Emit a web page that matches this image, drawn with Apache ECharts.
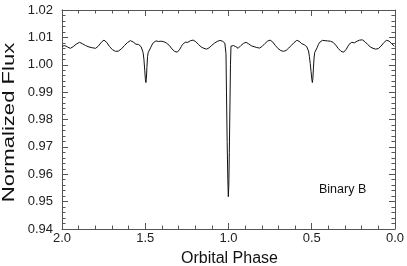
<!DOCTYPE html>
<html>
<head>
<meta charset="utf-8">
<script src="https://cdn.jsdelivr.net/npm/echarts@6/dist/echarts.min.js"></script>
<style>
html,body{margin:0;padding:0;background:#fff;}
#c{width:407px;height:266px;}
</style>
</head>
<body>
<div id="c"></div>
<script>
const xTitle = 'Orbital Phase';
const yTitle = 'Normalized Flux';
const annotation = 'Binary B';
const xTicks = [0, 0.5, 1.0, 1.5, 2.0];
const yTicks = [0.94, 0.95, 0.96, 0.97, 0.98, 0.99, 1.00, 1.01, 1.02];

const phase = [
1.998,1.990,1.983,1.975,1.967,1.958,1.950,1.942,1.933,1.925,1.915,1.905,1.895,1.887,1.878,1.868,1.858,1.848,1.838,1.828,
1.818,1.808,1.798,1.790,1.782,1.773,1.764,1.756,1.748,1.740,1.732,1.724,1.715,1.706,1.697,1.688,1.679,1.670,1.661,1.652,
1.643,1.634,1.625,1.616,1.607,1.598,1.589,1.580,1.572,1.564,1.556,1.548,1.540,1.532,1.525,1.519,1.513,1.508,1.503,1.499,
1.496,1.493,1.490,1.486,1.482,1.476,1.468,1.460,1.452,1.444,1.436,1.428,1.420,1.412,1.404,1.396,1.388,1.380,1.372,1.364,
1.356,1.348,1.340,1.332,1.324,1.316,1.308,1.300,1.292,1.284,1.276,1.268,1.260,1.252,1.244,1.236,1.228,1.220,1.212,1.204,
1.196,1.188,1.180,1.172,1.164,1.156,1.148,1.140,1.132,1.124,1.116,1.108,1.100,1.092,1.084,1.076,1.068,1.060,1.052,1.044,
1.036,1.028,1.022,1.017,
1.015,1.012,1.008,1.004,1.001,0.998,0.995,0.991,0.988,0.985,0.981,
0.976,0.970,0.963,0.956,0.949,0.942,0.934,0.926,0.918,0.910,0.902,0.894,0.886,0.878,0.870,0.862,0.854,0.846,0.838,0.830,
0.822,0.814,0.806,0.798,0.790,0.782,0.774,0.766,0.758,0.750,0.742,0.734,0.726,0.718,0.710,0.702,0.694,0.686,0.678,0.670,
0.662,0.654,0.646,0.638,0.630,0.622,0.614,0.606,0.598,0.590,0.584,0.576,0.568,0.560,0.552,0.544,0.536,0.530,0.524,
0.519,0.514,0.509,0.504,0.499,0.496,0.493,0.490,0.486,0.482,0.476,0.468,0.460,0.452,0.444,0.436,0.428,0.420,0.412,0.404,
0.396,0.388,0.380,0.372,0.364,0.356,0.348,0.340,0.332,0.324,0.316,0.308,0.300,0.292,0.284,0.276,0.268,0.260,0.252,0.244,
0.236,0.228,0.220,0.212,0.204,0.196,0.188,0.180,0.172,0.164,0.156,0.148,0.140,0.132,0.124,0.116,0.108,0.100,0.092,0.084,
0.076,0.068,0.060,0.052,0.044,0.036,0.028,0.020,0.012,0.004
];

const flux = [
1.0068,1.0072,1.0070,1.0066,1.0065,1.0063,1.0060,1.0061,1.0066,1.0070,1.0075,1.0079,1.0082,1.0081,1.0077,1.0073,1.0070,1.0068,1.0065,1.0064,
1.0062,1.0061,1.0060,1.0063,1.0068,1.0075,1.0082,1.0087,1.0090,1.0088,1.0082,1.0075,1.0067,1.0060,1.0055,1.0051,1.0049,1.0048,1.0050,1.0053,
1.0058,1.0064,1.0070,1.0076,1.0081,1.0085,1.0088,1.0087,1.0083,1.0078,1.0075,1.0076,1.0074,1.0070,1.0066,1.0062,1.0045,1.0020,0.9980,0.9945,
0.9935,0.9950,0.9990,1.0030,1.0045,1.0052,1.0062,1.0072,1.0080,1.0085,1.0087,1.0088,1.0085,1.0084,1.0086,1.0086,1.0084,1.0081,1.0079,1.0076,
1.0071,1.0064,1.0058,1.0053,1.0049,1.0047,1.0046,1.0050,1.0057,1.0066,1.0074,1.0080,1.0082,1.0080,1.0082,1.0085,1.0088,1.0089,1.0090,1.0088,
1.0084,1.0079,1.0074,1.0069,1.0065,1.0062,1.0060,1.0058,1.0057,1.0058,1.0062,1.0066,1.0071,1.0075,1.0079,1.0083,1.0085,1.0088,1.0089,1.0090,
1.0086,1.0082,1.0079,1.0075,
1.0040,0.9900,0.9720,0.9580,0.9518,0.9560,0.9680,0.9860,1.0000,1.0068,1.0075,
1.0072,1.0070,1.0071,1.0066,1.0062,1.0060,1.0065,1.0070,1.0074,1.0078,1.0080,1.0082,1.0080,1.0076,1.0072,1.0069,1.0067,1.0066,1.0064,1.0063,
1.0061,1.0061,1.0063,1.0067,1.0072,1.0077,1.0082,1.0086,1.0089,1.0090,1.0089,1.0083,1.0077,1.0070,1.0064,1.0059,1.0055,1.0052,1.0050,1.0049,
1.0050,1.0052,1.0056,1.0061,1.0066,1.0071,1.0076,1.0081,1.0086,1.0089,1.0090,1.0086,1.0080,1.0077,1.0076,1.0073,1.0070,1.0066,1.0060,
1.0050,1.0030,1.0005,0.9975,0.9945,0.9935,0.9950,0.9985,1.0025,1.0045,1.0052,1.0062,1.0074,1.0082,1.0087,1.0089,1.0091,1.0088,1.0086,1.0087,
1.0088,1.0086,1.0084,1.0082,1.0078,1.0072,1.0066,1.0059,1.0053,1.0049,1.0047,1.0046,1.0050,1.0057,1.0066,1.0074,1.0079,1.0082,1.0081,1.0080,
1.0083,1.0086,1.0088,1.0090,1.0091,1.0091,1.0088,1.0084,1.0079,1.0074,1.0069,1.0065,1.0062,1.0060,1.0058,1.0057,1.0057,1.0059,1.0063,1.0068,
1.0074,1.0080,1.0085,1.0089,1.0090,1.0087,1.0082,1.0077,1.0072,1.0068
];

const data = phase.map((p, i) => [p, flux[i]]);
const FONT = '"Liberation Sans", Arial, sans-serif';
const AX = '#555';

function xAx(pos, showLabel) {
  return {
    type: 'value', position: pos, inverse: true,
    min: xTicks[0], max: xTicks[xTicks.length - 1], interval: 0.5,
    axisLine: {show: true, onZero: false, lineStyle: {color: AX, width: 1}},
    axisTick: {show: true, inside: true, length: 6, lineStyle: {color: AX}},
    minorTick: {show: true, splitNumber: 5, length: 3.5, lineStyle: {color: AX}},
    axisLabel: {show: showLabel, formatter: v => v.toFixed(1), fontSize: 13, color: '#222', margin: 3, fontFamily: FONT},
    splitLine: {show: false}, minorSplitLine: {show: false}
  };
}
function yAx(pos, showLabel) {
  return {
    type: 'value', position: pos,
    min: yTicks[0], max: yTicks[yTicks.length - 1], interval: 0.01,
    axisLine: {show: true, onZero: false, lineStyle: {color: AX, width: 1}},
    axisTick: {show: true, inside: true, length: 6, lineStyle: {color: AX}},
    minorTick: {show: true, splitNumber: 5, length: 3.5, lineStyle: {color: AX}},
    axisLabel: {show: showLabel, formatter: v => v.toFixed(2), fontSize: 13, color: '#222', margin: 9, fontFamily: FONT},
    splitLine: {show: false}, minorSplitLine: {show: false}
  };
}

const chart = echarts.init(document.getElementById('c'), null, {renderer: 'canvas'});
chart.setOption({
  animation: false,
  backgroundColor: '#fff',
  grid: {left: 62, right: 11, top: 10, bottom: 37, containLabel: false},
  xAxis: [xAx('bottom', true), xAx('top', false)],
  yAxis: [yAx('left', true), yAx('right', false)],
  graphic: [
    {type: 'text', x: 9.5, y: 122.5, rotation: Math.PI / 2, scaleX: 1.38,
     style: {text: yTitle, font: '16px ' + FONT, fill: '#111', align: 'center', verticalAlign: 'middle'}},
    {type: 'text', x: 229.5, y: 259, 
     style: {text: xTitle, font: '16px ' + FONT, fill: '#111', align: 'center', verticalAlign: 'middle'}},
    {type: 'text', x: 319, y: 190,
     style: {text: annotation, font: '12.5px ' + FONT, fill: '#111', align: 'left', verticalAlign: 'middle'}}
  ],
  series: [{
    type: 'line', data: data, xAxisIndex: 0, yAxisIndex: 0,
    showSymbol: false, symbol: 'none',
    lineStyle: {color: '#111', width: 1}
  }]
});
</script>
</body>
</html>
